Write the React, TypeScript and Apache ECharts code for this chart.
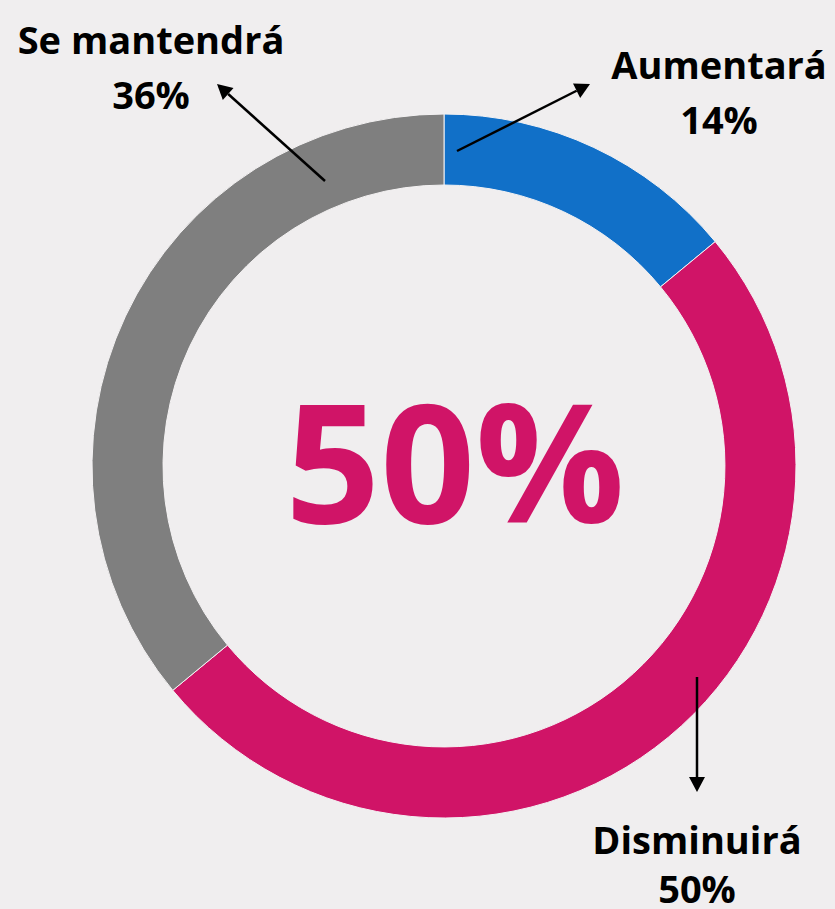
import React, { useEffect, useRef } from "react";
import * as echarts from "echarts";

const categories = ["Aumentará", "Disminuirá", "Se mantendrá"];
const values = [14, 50, 36];
const colors = ["#1170C8", "#D01467", "#7F7F7F"];
const highlightIndex = 1;

const BG = "#F0EEEF";
const FONT = "'Open Sans', 'Noto Sans', sans-serif";

function arrow(x1: number, y1: number, x2: number, y2: number) {
  const dx = x2 - x1;
  const dy = y2 - y1;
  const len = Math.sqrt(dx * dx + dy * dy);
  const ux = dx / len;
  const uy = dy / len;
  const headLen = 15;
  const headW = 8;
  const bx = x2 - ux * headLen;
  const by = y2 - uy * headLen;
  return [
    {
      type: "line",
      shape: { x1, y1, x2: bx, y2: by },
      style: { stroke: "#000", lineWidth: 2.5 },
      z: 10,
    },
    {
      type: "polygon",
      shape: {
        points: [
          [x2, y2],
          [bx - uy * headW, by + ux * headW],
          [bx + uy * headW, by - ux * headW],
        ],
      },
      style: { fill: "#000" },
      z: 10,
    },
  ];
}

function label(name: string, val: number, cx: number, y1: number, y2: number) {
  return [
    {
      type: "text",
      x: cx,
      y: y1,
      style: {
        text: name,
        font: `bold 38px ${FONT}`,
        fill: "#000",
        textAlign: "center",
        textVerticalAlign: "bottom",
      },
      z: 10,
    },
    {
      type: "text",
      x: cx,
      y: y2,
      style: {
        text: `${val}%`,
        font: `bold 38px ${FONT}`,
        fill: "#000",
        textAlign: "center",
        textVerticalAlign: "bottom",
      },
      z: 10,
    },
  ];
}

export default function App() {
  const ref = useRef<HTMLDivElement>(null);
  useEffect(() => {
    if (!ref.current) return;
    const chart = echarts.init(ref.current, null, { renderer: "svg" });
    chart.setOption({
      animation: false,
      backgroundColor: BG,
      series: [
        {
          type: "pie",
          center: [444, 466],
          radius: [281, 352],
          startAngle: 90,
          clockwise: true,
          label: { show: false },
          labelLine: { show: false },
          emphasis: { disabled: true },
          itemStyle: { borderColor: "#F4F2F3", borderWidth: 1 },
          data: categories.map((c, i) => ({
            name: c,
            value: values[i],
            itemStyle: { color: colors[i] },
          })),
        },
      ],
      graphic: [
        {
          type: "text",
          x: 455,
          y: 459,
          style: {
            text: `${values[highlightIndex]}%`,
            font: `bold 166px ${FONT}`,
            fill: colors[highlightIndex],
            textAlign: "center",
            textVerticalAlign: "middle",
          },
          z: 10,
        },
        ...label(categories[2], values[2], 151, 58, 113),
        ...label(categories[0], values[0], 719, 83, 138),
        ...label(categories[1], values[1], 697, 858, 907),
        ...arrow(457, 151, 590, 84),
        ...arrow(325, 181, 217, 84),
        ...arrow(697, 677, 697, 792),
      ],
    });
    return () => chart.dispose();
  }, []);
  return (
    <div
      ref={ref}
      style={{ position: "fixed", left: 0, top: 0, width: 835, height: 909 }}
    />
  );
}
